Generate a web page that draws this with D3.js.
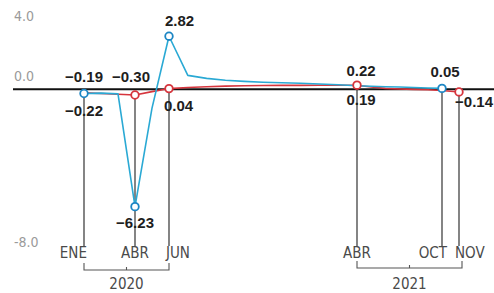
<!DOCTYPE html>
<html>
<head>
<meta charset="utf-8">
<script src="https://cdn.jsdelivr.net/npm/d3@7/dist/d3.min.js"></script>
<style>
  html, body { margin: 0; padding: 0; background: #fff; }
  svg { display: block; }
</style>
</head>
<body>
<svg id="chart" width="494" height="293"></svg>
<script>
// ---- data (month index 0 = ENE 2020 ... 22 = NOV 2021) ----
const tickMonths = [0, 3, 5, 15, 21, 22];
const tickLabels = ["ENE", "ABR", "JUN", "ABR", "OCT", "NOV"];
const yearLabels = ["2020", "2021"];
const yearStart = [0, 15];
const yearEnd = [5, 22];
const yTicks = [4, 0, -8];
const yTickLabels = ["4.0", "0.0", "-8.0"];

const blueValues = [-0.22, -0.20, -0.24, -6.23, -1.0, 2.82, 0.74, 0.58, 0.48, 0.42, 0.38,
  0.35, 0.32, 0.28, 0.24, 0.19, 0.16, 0.14, 0.12, 0.10, 0.07, 0.05];
const redValues = [-0.19, -0.22, -0.26, -0.30, -0.12, 0.04, 0.10, 0.14, 0.17, 0.19, 0.20,
  0.21, 0.21, 0.22, 0.22, 0.22, 0.12, 0.05, 0.02, 0.00, -0.02, -0.06, -0.14];

const blueLabelMonths = [0, 3, 5, 15, 21];
const redLabelMonths = [0, 3, 5, 15, 22];
const blueMarkerMonths = [0, 3, 5, 21];
const redMarkerMonths = [3, 5, 15, 22];

// ---- label placement (style, not data) ----
const bluePlace = { 0: [0, 17, "middle"], 3: [0, 16, "middle"], 5: [-4, -16, "start"], 15: [4, 14, "middle"], 21: [3, -17, "middle"] };
const redPlace  = { 0: [0, -16, "middle"], 3: [-4, -18, "middle"], 5: [-5, 17, "start"], 15: [4, -15, "middle"], 22: [34, 10, "end"] };
const tickPlace = [[3, "end"], [0, "middle"], [-3, "start"], [0, "middle"], [5, "end"], [-4, "start"]];

const BLUE = "#2aa9d4", BLUE_DARK = "#1c86c4", RED = "#d6353d";

const svg = d3.select("#chart");
const x = d3.scaleLinear().domain(tickMonths).range([84, 135, 169, 357, 442, 459]);
const y = d3.scaleLinear().domain([-8, 4]).range([240, 14]);

// y tick labels
svg.append("g").selectAll("text").data(yTicks).join("text")
  .attr("x", 14)
  .attr("y", d => y(d) + (d === 0 ? -13 : 2))
  .attr("dominant-baseline", "central")
  .attr("font-family", "'Liberation Sans Narrow','DejaVu Sans Condensed',sans-serif")
  .attr("font-size", 14)
  .attr("fill", "#9a9a9a")
  .text((d, i) => yTickLabels[i]);

// zero line
svg.append("line")
  .attr("x1", 13).attr("x2", 494)
  .attr("y1", y(0)).attr("y2", y(0))
  .attr("stroke", "#111").attr("stroke-width", 2);

// vertical drop lines
svg.append("g").selectAll("line").data(tickMonths).join("line")
  .attr("x1", d => x(d)).attr("x2", d => x(d))
  .attr("y1", d => {
    const vals = [blueValues[d], redValues[d]].filter(v => v !== undefined);
    const v = vals.reduce((a, b) => Math.abs(a) < Math.abs(b) ? a : b);
    return y(v);
  })
  .attr("y2", 246)
  .attr("stroke", "#333").attr("stroke-width", 1.2);

// series lines
const line = d3.line().x((d, i) => x(i)).y(d => y(d));
svg.append("path").datum(redValues)
  .attr("d", line).attr("fill", "none")
  .attr("stroke", RED).attr("stroke-width", 1.6).attr("stroke-linejoin", "round");
svg.append("path").datum(blueValues)
  .attr("d", line).attr("fill", "none")
  .attr("stroke", BLUE).attr("stroke-width", 1.6).attr("stroke-linejoin", "round");

// markers
svg.append("g").selectAll("circle").data(blueMarkerMonths).join("circle")
  .attr("cx", d => x(d)).attr("cy", d => y(blueValues[d])).attr("r", 3.8)
  .attr("fill", "#fff").attr("stroke", BLUE_DARK).attr("stroke-width", 1.8);
svg.append("g").selectAll("circle").data(redMarkerMonths).join("circle")
  .attr("cx", d => x(d)).attr("cy", d => y(redValues[d])).attr("r", 3.8)
  .attr("fill", "#fff").attr("stroke", RED).attr("stroke-width", 1.8);

// value labels
const fmt = d3.format(".2f");
function valueLabels(months, values, place) {
  svg.append("g").selectAll("text").data(months).join("text")
    .attr("x", d => x(d) + place[d][0])
    .attr("y", d => y(values[d]) + place[d][1])
    .attr("text-anchor", d => place[d][2])
    .attr("dominant-baseline", "central")
    .attr("font-family", "'Liberation Sans','Arial',sans-serif")
    .attr("font-weight", "bold")
    .attr("font-size", 15)
    .attr("fill", "#1e1e1e")
    .text(d => fmt(values[d]));
}
valueLabels(blueLabelMonths, blueValues, bluePlace);
valueLabels(redLabelMonths, redValues, redPlace);

// month labels
svg.append("g").selectAll("text").data(tickMonths).join("text")
  .attr("x", (d, i) => x(d) + tickPlace[i][0])
  .attr("y", 253)
  .attr("text-anchor", (d, i) => tickPlace[i][1])
  .attr("dominant-baseline", "central")
  .attr("font-family", "'Liberation Sans Narrow','DejaVu Sans Condensed',sans-serif")
  .attr("font-size", 15)
  .attr("fill", "#4a4a4a")
  .text((d, i) => tickLabels[i]);

// year brackets
const yearG = svg.append("g").selectAll("g").data(yearLabels).join("g");
const bracketY = [270, 268];
yearG.append("path")
  .attr("d", (d, i) => {
    const a = x(yearStart[i]), b = x(yearEnd[i]) + (i === 1 ? 3 : 0), by = bracketY[i];
    const m = (a + b) / 2;
    return `M${a},${by - 7}V${by}H${b}V${by - 7}M${m},${by}V${by - 3}`;
  })
  .attr("fill", "none").attr("stroke", "#555").attr("stroke-width", 1.1);
yearG.append("text")
  .attr("x", (d, i) => (x(yearStart[i]) + x(yearEnd[i]) + (i === 1 ? 3 : 0)) / 2)
  .attr("y", 284)
  .attr("text-anchor", "middle")
  .attr("dominant-baseline", "central")
  .attr("font-family", "'Liberation Sans Narrow','DejaVu Sans Condensed',sans-serif")
  .attr("font-size", 15)
  .attr("fill", "#4a4a4a")
  .text(d => d);
</script>
</body>
</html>
